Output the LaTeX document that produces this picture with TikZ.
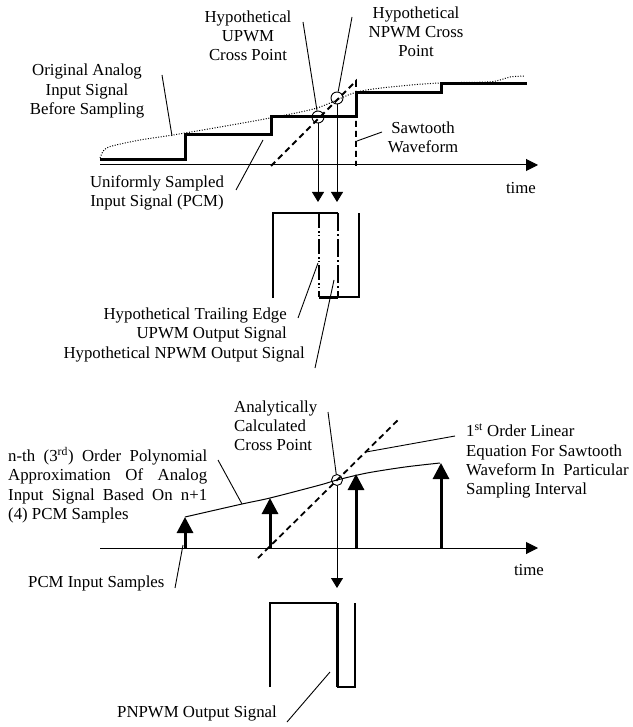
\documentclass[tikz,border=0pt]{standalone}
\usepackage{fontspec}
\setmainfont{Liberation Serif}
\usetikzlibrary{arrows.meta}
\begin{document}
\begin{tikzpicture}[x=1pt,y=-1pt,
  lbl/.style={font=\fontsize{16.8}{19.2}\selectfont, inner sep=0pt, align=center},
  leader/.style={line width=0.9pt},
  axis/.style={line width=1pt,-{Triangle[length=12pt,width=12pt]}},
  stepsig/.style={line width=3pt},
  analog/.style={line width=1pt, dash pattern=on 1pt off 1.6pt},
  saw/.style={line width=1.8pt, dash pattern=on 6pt off 4pt},
  probe/.style={line width=0.9pt,-{Triangle[length=10pt,width=12pt]}},
  sample/.style={line width=3pt,-{Triangle[length=16pt,width=16pt]}},
  pwm/.style={line width=1.8pt},
  cross/.style={circle,draw,line width=0.9pt,minimum size=12pt,inner sep=0pt}]
\useasboundingbox (0,0) rectangle (632,727);

% ---------------- top section ----------------
\coordinate (ax1s) at (100,165);
\coordinate (ax1e) at (538,165);
\draw[axis] (ax1s) -- (ax1e);
\node[lbl] (time1) at (521,188) {time};

\draw[analog] plot[smooth] coordinates {(100,158) (104,150) (112,146) (140,140) (173,135) (220,127) (270,118) (317,108) (357,92) (400,86) (440,83) (487,82) (500,80) (510,77) (524,76)};

\draw[stepsig] (100,160) -- (185,160) -- (185,135) -- (271,135) -- (271,117) -- (356,117) -- (356,93) -- (441,93) -- (441,84) -- (527,84);

\coordinate (saws) at (271,166);
\coordinate (sawt) at (356,81);
\coordinate (sawb) at (356,166);
\draw[saw] (saws) -- (sawt) -- (sawb);

\node[cross] (upx) at (318,117) {};
\node[cross] (npx) at (337,98) {};
\coordinate (upt) at (318,202);
\coordinate (npt) at (337,202);
\draw[probe] (upx.south) -- (upt);
\draw[probe] (npx.south) -- (npt);

\node[lbl] (lupx) at (248,36) {Hypothetical\\UPWM\\Cross Point};
\coordinate (lupxa) at (303,22);
\draw[leader] (lupxa) -- (upx);

\node[lbl] (lnpx) at (416,32) {Hypothetical\\NPWM Cross\\Point};
\coordinate (lnpxa) at (352,17);
\draw[leader] (lnpxa) -- (npx);

\node[lbl] (lorig) at (87,91) {Original Analog\\Input Signal\\Before Sampling};
\coordinate (lorga) at (162,75);
\coordinate (lorgb) at (172,136);
\draw[leader] (lorga) -- (lorgb);

\node[lbl] (lpcm) at (157,193) {Uniformly Sampled\\Input Signal (PCM)};
\coordinate (lpcma) at (236,190);
\coordinate (lpcmb) at (263,140);
\draw[leader] (lpcma) -- (lpcmb);

\node[lbl] (lsaw) at (423,137) {Sawtooth\\Waveform};
\coordinate (lsawa) at (382,132);
\coordinate (lsawb) at (357,141);
\draw[leader] (lsawa) -- (lsawb);

% ---------------- middle PWM ----------------
\draw[pwm] (273,298) -- (273,213) -- (338,213);
\draw[line width=1.3pt, dash pattern=on 15pt off 3pt on 1.5pt off 2pt on 1.5pt off 3pt] (319,213) -- (319,297);
\draw[line width=3pt] (319,297) -- (338,297);
\draw[line width=2.6pt, dash pattern=on 18pt off 3pt on 2pt off 3pt] (338,213) -- (338,297);
\draw[pwm] (338,297) -- (359,297) -- (359,213);

\node[lbl, anchor=east, align=right] (ltr) at (287,325) {Hypothetical Trailing Edge\\UPWM Output Signal};
\coordinate (ltra) at (298,318);
\coordinate (ltrb) at (318,263);
\draw[leader] (ltra) -- (ltrb);

\node[lbl, anchor=east] (lnpo) at (305,354) {Hypothetical NPWM Output Signal};
\coordinate (lnpoa) at (315,368);
\coordinate (lnpob) at (334,280);
\draw[leader] (lnpoa) -- (lnpob);

% ---------------- bottom section ----------------
\coordinate (ax2s) at (100,548);
\coordinate (ax2e) at (538,548);
\draw[axis] (ax2s) -- (ax2e);
\node[lbl] (time2) at (529,570) {time};

\draw[line width=1pt] plot[smooth] coordinates {(185,517) (242,504) (270,498) (320,485) (337,480) (367,473) (405,467) (440,463)};

\coordinate (saw2a) at (258,558);
\coordinate (saw2b) at (398,420);
\draw[saw] (saw2a) -- (saw2b);

\foreach \i/\x/\y in {1/185/517, 2/270/498, 3/356/474, 4/441/463} {
  \coordinate (sb\i) at (\x,548);
  \coordinate (st\i) at (\x,\y);
  \draw[sample] (sb\i) -- (st\i);
}

\node[cross, minimum size=11pt] (acx) at (337,480) {};
\coordinate (act) at (337,588);
\draw[probe] (acx.south) -- (act);

\draw[pwm] (270,687) -- (270,603) -- (337,603);
\draw[line width=3pt] (337,603) -- (337,687);
\draw[pwm] (337,687) -- (355,687) -- (355,603);

\node[lbl, anchor=west, align=left] (lac) at (234,426) {Analytically\\Calculated\\Cross Point};
\coordinate (laca) at (328,412);
\draw[leader] (laca) -- (acx);

\node[lbl, anchor=west, align=left] (lfo) at (466,461) {1\textsuperscript{st} Order Linear\\Equation For Sawtooth\\Waveform In~ Particular\\Sampling Interval};
\coordinate (lfoa) at (455,436);
\coordinate (lfob) at (366,452);
\draw[leader] (lfoa) -- (lfob);

\node[lbl, anchor=west, align=left] (lnth) at (8,485) {\makebox[199pt][s]{n-th (3\textsuperscript{rd}) Order Polynomial}\\\makebox[199pt][s]{Approximation Of Analog}\\\makebox[199pt][s]{Input Signal Based On n+1}\\(4) PCM Samples};
\coordinate (lntha) at (218,460);
\coordinate (lnthb) at (242,504);
\draw[leader] (lntha) -- (lnthb);

\node[lbl, anchor=west] (lpin) at (28,583) {PCM Input Samples};
\coordinate (lpina) at (175,588);
\coordinate (lpinb) at (183,545);
\draw[leader] (lpina) -- (lpinb);

\node[lbl, anchor=east] (lpn) at (277,713) {PNPWM Output Signal};
\coordinate (lpna) at (287,722);
\coordinate (lpnb) at (330,672);
\draw[leader] (lpna) -- (lpnb);
\end{tikzpicture}
\end{document}
